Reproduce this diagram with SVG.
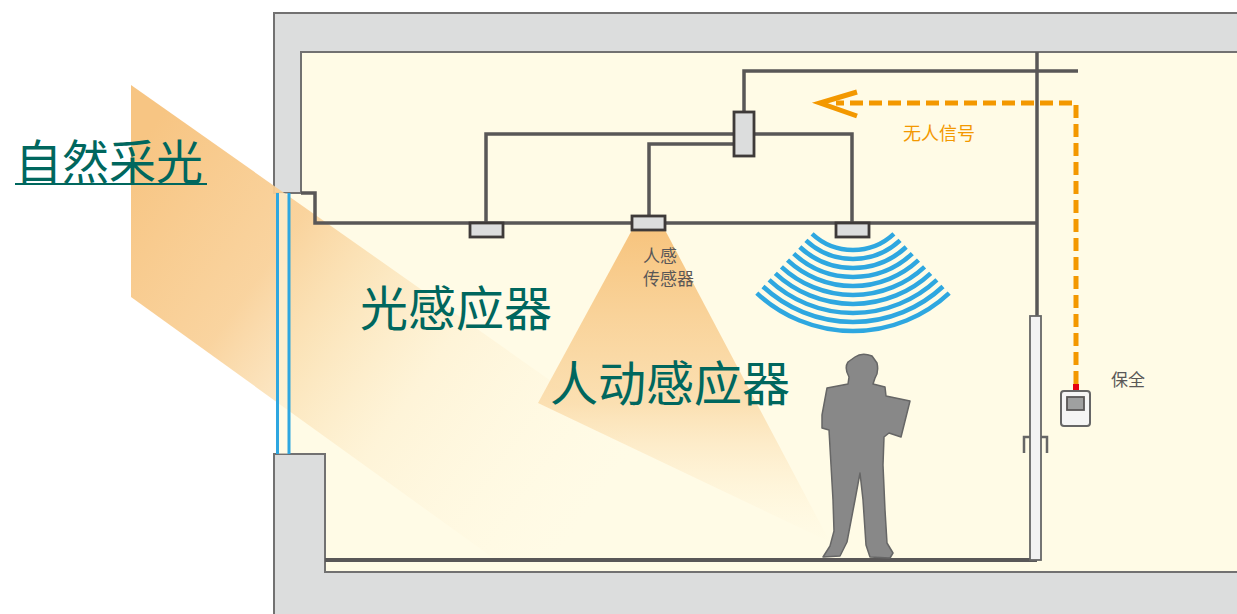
<svg xmlns="http://www.w3.org/2000/svg" width="1237" height="614" viewBox="0 0 1237 614">
  <defs>
    <style>
      .wall { fill: #DCDDDD; }
      .edge { fill: none; stroke: #727171; stroke-width: 2; }
      .wire { fill: none; stroke: #595757; stroke-width: 3.5; stroke-linejoin: miter; }
      .unit { fill: #DCDDDD; stroke: #3E3A39; stroke-width: 2.8; }
      .wave { fill: none; stroke: #2EA7E0; stroke-width: 4.5; }
      .glass { stroke: #2EA7E0; stroke-width: 3; }
      .signal { fill: none; stroke: #F39800; stroke-width: 5; }
      .big { font-family: "Noto Sans CJK SC", "Noto Sans", sans-serif; fill: #00675E; }
      .small { font-family: "Noto Sans CJK SC", "Noto Sans", sans-serif; fill: #595757; font-size: 17px; }
    </style>
    <linearGradient id="sunBeam" gradientUnits="userSpaceOnUse" x1="150" y1="130" x2="620" y2="470">
      <stop offset="0" stop-color="#F7C583" stop-opacity="1"/>
      <stop offset="0.3" stop-color="#F9D097" stop-opacity="0.92"/>
      <stop offset="0.45" stop-color="#FADCAA" stop-opacity="0.7"/>
      <stop offset="0.63" stop-color="#FCE6BD" stop-opacity="0.35"/>
      <stop offset="1" stop-color="#FFF5DA" stop-opacity="0"/>
    </linearGradient>
    <linearGradient id="coneBeam" gradientUnits="userSpaceOnUse" x1="0" y1="230" x2="0" y2="545">
      <stop offset="0" stop-color="#F7C47E" stop-opacity="1"/>
      <stop offset="0.55" stop-color="#FAD9A5" stop-opacity="0.8"/>
      <stop offset="1" stop-color="#FFF3D6" stop-opacity="0"/>
    </linearGradient>
    <filter id="soft" x="-10%" y="-10%" width="120%" height="120%">
      <feGaussianBlur stdDeviation="0.7"/>
    </filter>
  </defs>

  <rect width="1237" height="614" fill="#FFFFFF"/>

  <!-- building section -->
  <g id="building">
    <path class="wall" d="M274,13 H1237 V52 H301 V193 H274 Z"/>
    <path class="wall" d="M274,454 H325 V572 H1237 V614 H274 Z"/>
    <path d="M301,52 H1237 V572 H325 V454 H277 V193 H301 Z" fill="#FFFBE6"/>
    <path class="edge" d="M274,614 V454 H325 V572 H1237"/>
    <path class="edge" d="M1237,13 H274 V193 H301 V52 H1237"/>
  </g>

  <!-- daylight through the window -->
  <g id="daylight">
    <polygon points="131,85 805,560 496,560 131,297" fill="url(#sunBeam)"/>
  </g>

  <!-- window glazing -->
  <g id="window">
    <rect x="279" y="193" width="9" height="261" fill="#FFFBE6" opacity="0.55"/>
    <line class="glass" x1="277.5" y1="193" x2="277.5" y2="454"/>
    <line class="glass" x1="289" y1="193" x2="289" y2="454"/>
  </g>

  <!-- detection cone of the presence sensor -->
  <g id="presence-cone">
    <polygon points="632,230 665,230 830,542 538,403" fill="url(#coneBeam)"/>
  </g>

  <!-- floor -->
  <line x1="325" y1="560" x2="1037" y2="560" stroke="#595757" stroke-width="4"/>

  <!-- wiring and signal path -->
  <g id="connectors">
    <path class="wire" d="M301,193 H315 V223 H1037"/>
    <path class="wire" d="M1037,52 V316"/>
    <path class="wire" d="M486,223 V134 H852 V223"/>
    <path class="wire" d="M649,216 V144 H744"/>
    <path class="wire" d="M744,112 V71 H1078"/>
    <path class="signal" d="M1076,384 V103 H836" stroke-dasharray="13 6"/>
    <polyline class="signal" points="857,92 820,103 857,116" stroke-linejoin="miter"/>
    <rect x="1073" y="384" width="6" height="8" fill="#E60012"/>
  </g>

  <!-- controller -->
  <g id="controller">
    <rect class="unit" x="734" y="112" width="20" height="44"/>
  </g>

  <!-- daylight sensor -->
  <g id="light-sensor">
    <rect class="unit" x="470" y="223" width="33" height="14"/>
  </g>

  <!-- presence sensor -->
  <g id="presence-sensor">
    <rect class="unit" x="632" y="216" width="33" height="14"/>
    <text class="small" x="643" y="262">人感</text>
    <text class="small" x="643" y="285">传感器</text>
  </g>

  <!-- motion sensor with radar waves -->
  <g id="motion-sensor">
    <rect class="unit" x="836" y="223" width="33" height="14"/>
    <g class="wave">
      <path d="M812.1,233.9 A60,60 0 0 0 893.9,233.9"/>
      <path d="M805.9,240.4 A69,69 0 0 0 900.1,240.4"/>
      <path d="M799.8,247.0 A78,78 0 0 0 906.2,247.0"/>
      <path d="M793.7,253.6 A87,87 0 0 0 912.3,253.6"/>
      <path d="M787.5,260.2 A96,96 0 0 0 918.5,260.2"/>
      <path d="M781.4,266.8 A105,105 0 0 0 924.6,266.8"/>
      <path d="M775.3,273.3 A114,114 0 0 0 930.7,273.3"/>
      <path d="M769.1,279.9 A123,123 0 0 0 936.9,279.9"/>
      <path d="M763.0,286.5 A132,132 0 0 0 943.0,286.5"/>
      <path d="M756.8,293.1 A141,141 0 0 0 949.2,293.1"/>
    </g>
  </g>

  <!-- occupant -->
  <g id="person" filter="url(#soft)">
    <path d="M855,357 Q862,352 872,356 L877,363 Q879,372 875,378 L873,384 L885,387 L886,396 L910,401 L901,437 L889,433 L884,437 L883,465 L885,510 L887,543 L893,553 L890,558 L870,557 L866,545 L863,500 L860,473 L855,500 L847,542 L840,556 L823,557 L830,546 L834,531 L833,500 L831,465 L829,430 L822,428 L822,415 L827,388 L848,384 L849,377 Q844,368 848,362 Z" fill="#888888" stroke="#666666" stroke-width="1.5" stroke-linejoin="round"/>
  </g>

  <!-- door -->
  <g id="door">
    <rect x="1030" y="316" width="11" height="244" fill="#F2F2F2" stroke="#666666" stroke-width="1.8"/>
    <path d="M1030,437 H1024 V453" fill="none" stroke="#666666" stroke-width="2.5"/>
    <path d="M1041,437 H1047 V453" fill="none" stroke="#666666" stroke-width="2.5"/>
  </g>

  <!-- security panel -->
  <g id="security-panel">
    <rect x="1061" y="391" width="29" height="35" rx="3" fill="#F5F5F5" stroke="#666666" stroke-width="2"/>
    <rect x="1067" y="397" width="17" height="13" fill="#9FA0A0" stroke="#595757" stroke-width="1.8"/>
    <text class="small" x="1111" y="386">保全</text>
  </g>

  <!-- labels -->
  <g id="labels">
    <text x="903" y="140" font-family="'Noto Sans CJK SC', 'Noto Sans', sans-serif" font-size="18" fill="#F39800">无人信号</text>
    <text class="big" x="15" y="179" font-size="47">自然采光</text>
    <line x1="15" y1="184" x2="207" y2="184" stroke="#00675E" stroke-width="2.2"/>
    <text class="big" x="360" y="326" font-size="48">光感应器</text>
    <text class="big" x="550" y="401" font-size="48">人动感应器</text>
  </g>
</svg>
